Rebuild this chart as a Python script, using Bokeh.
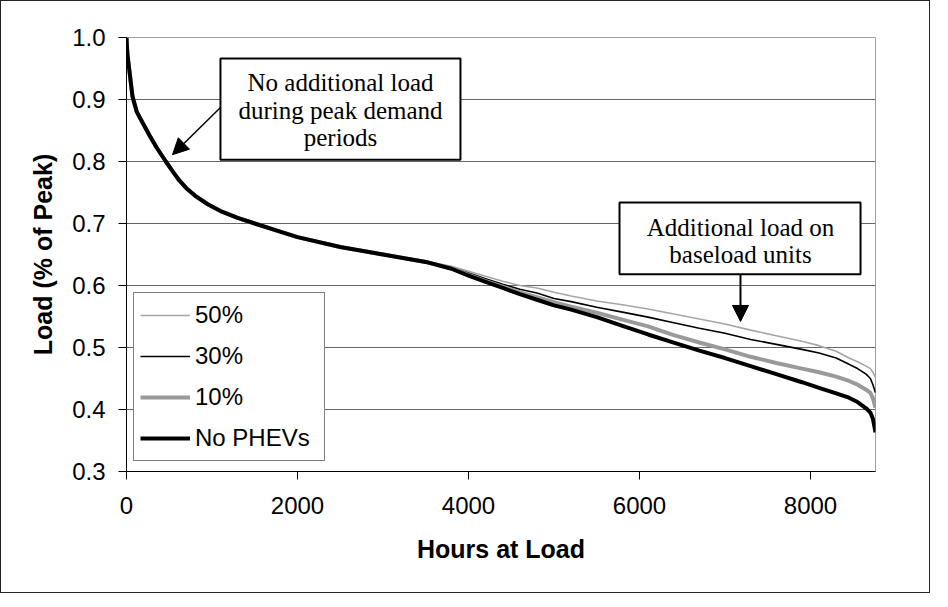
from bokeh.plotting import figure
from bokeh.models import (Legend, LegendItem, FixedTicker, BoxAnnotation, Label,
                          Arrow, NormalHead, Range1d, NumeralTickFormatter)
from bokeh.embed import file_html
from bokeh.resources import INLINE

# ---- data ----
hours = [0, 5, 15, 35, 70, 120, 190, 270, 350, 460, 540, 620, 700, 800, 950,
         1100, 1300, 1500, 1750, 2000, 2500, 3000, 3500, 3800, 4000, 4200, 4400,
         4600, 4800, 5000, 5200, 5500, 5800, 6100, 6400, 6700, 7000, 7300, 7600,
         7900, 8100, 8300, 8450, 8550, 8650, 8700, 8730, 8760]

no_phev = [1.000, 0.985, 0.968, 0.945, 0.905, 0.880, 0.862, 0.842, 0.823, 0.800,
           0.784, 0.769, 0.757, 0.745, 0.731, 0.720, 0.709, 0.700, 0.689, 0.678,
           0.662, 0.650, 0.638, 0.627, 0.616, 0.606, 0.596, 0.586, 0.577, 0.568,
           0.561, 0.549, 0.535, 0.521, 0.508, 0.495, 0.483, 0.470, 0.457, 0.444,
           0.435, 0.426, 0.419, 0.412, 0.402, 0.395, 0.385, 0.363]

phev10 = [1.000, 0.985, 0.968, 0.945, 0.905, 0.880, 0.862, 0.842, 0.823, 0.800,
          0.784, 0.769, 0.757, 0.745, 0.731, 0.720, 0.709, 0.700, 0.689, 0.678,
          0.662, 0.650, 0.638, 0.628, 0.617, 0.607, 0.598, 0.589, 0.581, 0.573,
          0.566, 0.556, 0.545, 0.534, 0.520, 0.508, 0.497, 0.485, 0.475, 0.466,
          0.460, 0.453, 0.446, 0.440, 0.432, 0.427, 0.418, 0.403]

phev30 = [1.000, 0.985, 0.968, 0.945, 0.905, 0.880, 0.862, 0.842, 0.823, 0.800,
          0.784, 0.769, 0.757, 0.745, 0.731, 0.720, 0.709, 0.700, 0.689, 0.678,
          0.662, 0.650, 0.638, 0.629, 0.620, 0.611, 0.602, 0.594, 0.588, 0.579,
          0.574, 0.565, 0.557, 0.549, 0.540, 0.531, 0.523, 0.513, 0.505, 0.497,
          0.491, 0.483, 0.473, 0.466, 0.457, 0.450, 0.440, 0.427]

phev50 = [1.000, 0.985, 0.968, 0.945, 0.905, 0.880, 0.862, 0.842, 0.823, 0.800,
          0.784, 0.769, 0.757, 0.745, 0.731, 0.720, 0.709, 0.700, 0.689, 0.678,
          0.662, 0.650, 0.639, 0.631, 0.623, 0.615, 0.607, 0.600, 0.596, 0.589,
          0.583, 0.575, 0.569, 0.562, 0.554, 0.546, 0.538, 0.528, 0.519, 0.510,
          0.503, 0.494, 0.483, 0.477, 0.470, 0.466, 0.460, 0.452]

series_labels = ["50%", "30%", "10%", "No PHEVs"]
x_ticks = [0, 2000, 4000, 6000, 8000]
y_ticks = [0.3, 0.4, 0.5, 0.6, 0.7, 0.8, 0.9, 1.0]

note1_lines = ["No additional load", "during peak demand", "periods"]
note2_lines = ["Additional load on", "baseload units"]

SANS = "Liberation Sans"
SERIF = "Liberation Serif"

p = figure(width=930, height=593, x_range=Range1d(0, 8760), y_range=Range1d(0.3, 1.0),
           output_backend="svg", toolbar_location=None,
           min_border_left=125, min_border_right=56, min_border_top=36, min_border_bottom=123)
p.styles = {"border": "1px solid #222222"}
p.background_fill_color = "white"
p.outline_line_color = "#a0a0a0"
p.outline_line_width = 1

# axes
for ax in (p.xaxis[0], p.yaxis[0]):
    ax.axis_line_color = "black"
    ax.major_tick_line_color = "black"
    ax.major_tick_out = 8
    ax.major_tick_in = 0
    ax.minor_tick_line_color = None
    ax.major_label_text_font = SANS
    ax.major_label_text_font_size = "24px"
    ax.major_label_text_color = "black"
    ax.axis_label_text_font = SANS
    ax.axis_label_text_font_size = "25px"
    ax.axis_label_text_font_style = "bold"
    ax.axis_label_text_color = "black"

p.xaxis.ticker = FixedTicker(ticks=x_ticks)
p.yaxis.ticker = FixedTicker(ticks=y_ticks)
p.yaxis.formatter = NumeralTickFormatter(format="0.0")
p.xaxis.axis_label = "Hours at Load"
p.yaxis.axis_label = "Load (% of Peak)"
p.xaxis.major_label_standoff = 17
p.yaxis.major_label_standoff = 13
p.xaxis.axis_label_standoff = 18
p.yaxis.axis_label_standoff = 12

p.xgrid.grid_line_color = None
p.ygrid.grid_line_color = "#666666"
p.ygrid.grid_line_width = 1

# series
r50 = p.line(hours, phev50, line_color="#a6a6a6", line_width=1.6)
r30 = p.line(hours, phev30, line_color="black", line_width=1.6)
r10 = p.line(hours, phev10, line_color="#9a9a9a", line_width=4)
r0 = p.line(hours, no_phev, line_color="black", line_width=4)

legend = Legend(items=[LegendItem(label=series_labels[0], renderers=[r50]),
                       LegendItem(label=series_labels[1], renderers=[r30]),
                       LegendItem(label=series_labels[2], renderers=[r10]),
                       LegendItem(label=series_labels[3], renderers=[r0])],
                location=(7, 10), orientation="vertical",
                border_line_color="black", border_line_width=1,
                background_fill_color="white", background_fill_alpha=1,
                label_text_font=SANS, label_text_font_size="24px", label_text_color="black",
                glyph_width=50, glyph_height=32, label_height=32, label_width=123,
                label_standoff=5, spacing=9, padding=6, margin=0)
p.add_layout(legend, "center")

# annotation 1
box1 = BoxAnnotation(left=1099, right=3906, top=0.966, bottom=0.803,
                     fill_color="white", fill_alpha=1,
                     line_color="black", line_alpha=1, line_width=2)
p.add_layout(box1)
for txt, yy in zip(note1_lines, [0.927, 0.882, 0.839]):
    p.add_layout(Label(x=2503, y=yy, text=txt, text_align="center", text_baseline="middle",
                       text_font=SERIF, text_font_size="25px", text_color="black"))
p.add_layout(Arrow(x_start=1099, y_start=0.887, x_end=538, y_end=0.811,
                   line_color="black", line_width=1.5,
                   end=NormalHead(size=16, fill_color="black", line_color="black")))

# annotation 2
box2 = BoxAnnotation(left=5766, right=8585, top=0.734, bottom=0.618,
                     fill_color="white", fill_alpha=1,
                     line_color="black", line_alpha=1, line_width=2)
p.add_layout(box2)
for txt, yy in zip(note2_lines, [0.694, 0.650]):
    p.add_layout(Label(x=7181, y=yy, text=txt, text_align="center", text_baseline="middle",
                       text_font=SERIF, text_font_size="25px", text_color="black"))
p.add_layout(Arrow(x_start=7181, y_start=0.618, x_end=7181, y_end=0.542,
                   line_color="black", line_width=2,
                   end=NormalHead(size=16, fill_color="black", line_color="black")))

open("out.html", "w").write(file_html(p, INLINE))
